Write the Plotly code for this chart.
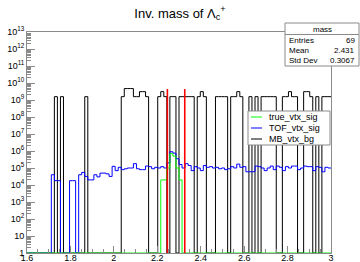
import numpy as np
import plotly.graph_objects as go

# ---------------- data ----------------
mass_lo, mass_hi, n_bins = 1.6, 3.0, 100
x_tick_vals = [1.6, 1.8, 2.0, 2.2, 2.4, 2.6, 2.8, 3.0]
x_tick_text = ["1.6", "1.8", "2", "2.2", "2.4", "2.6", "2.8", "3"]
y_tick_exps = list(range(0, 14))

true_vtx_sig = [0] * 44 + [2.0e4, 2.0e4, 1.0e5, 7.0e5, 5.0e5, 1.0e5, 2.0e4] + [0] * 49

tof_vtx_sig = [
    0, 0, 0, 0, 0, 0, 0, 0, 4.0e4, 1.8e4,
    1.8e4, 0, 0, 0, 1.8e4, 1.8e4, 0, 4.0e4, 5.5e4, 3.2e4,
    2.0e4, 2.0e4, 4.0e4, 3.0e4, 5.0e4, 5.0e4, 4.5e4, 3.2e4, 1.25e5, 7.0e4,
    1.1e5, 8.0e4, 9.0e4, 1.0e5, 1.0e5, 1.8e5, 9.0e4, 8.0e4, 8.0e4, 1.3e5,
    1.2e5, 9.0e4, 1.1e5, 1.0e5, 1.2e5, 1.0e5, 2.0e5, 9.0e5, 7.5e5, 3.5e5,
    1.6e5, 1.0e5, 1.8e5, 1.4e5, 7.0e4, 1.2e5, 1.0e5, 7.0e4, 1.4e5, 1.1e5,
    1.2e5, 1.0e5, 1.1e5, 9.0e4, 1.0e5, 8.0e4, 9.0e4, 1.2e5, 1.0e5, 1.7e5,
    1.1e5, 1.2e5, 6.0e4, 6.0e4, 6.0e4, 1.3e5, 1.2e5, 1.0e5, 7.0e4, 1.0e5,
    1.3e5, 8.0e4, 1.3e5, 1.1e5, 7.0e4, 1.2e5, 1.0e5, 1.3e5, 1.3e5, 8.0e4,
    1.0e5, 1.3e5, 1.2e5, 1.2e5, 7.0e4, 1.2e5, 1.1e5, 6.0e4, 1.1e5, 1.0e5,
]

L, M, H = 1.57e9, 3.1e9, 4.7e9
mb_vtx_bg = [
    0, 0, 0, 0, 0, 0, 0, 0, 0, L,
    0, L, 0, 0, 0, 0, 0, 0, 0, L,
    0, 0, 0, 0, 0, 0, 0, 0, 0, 0,
    0, L, H, H, H, L, L, M, M, L,
    0, 0, 0, L, M, L, 0, L, L, 0,
    L, L, L, L, L, 0, L, M, L, 0,
    0, 0, L, L, L, L, 0, L, L, M,
    L, 0, 0, L, 0, L, 0, L, L, L,
    L, L, 0, 0, L, L, M, L, L, 0,
    0, M, M, L, 0, L, 0, L, L, L,
]

cut_window = [2.2465, 2.3265]
cut_top = 4.4e9

stats_title = "mass"
stats_rows = [("Entries", "69"), ("Mean", "2.431"), ("Std Dev", "0.3067")]
legend_rows = [("true_vtx_sig", "#00ff00"), ("TOF_vtx_sig", "#0000ff"), ("MB_vtx_bg", "#000000")]

# ---------------- helpers ----------------
W, H_PX = 360, 262
ML, MR, MT, MB = 27, 29, 32, 9
PW, PH = W - ML - MR, H_PX - MT - MB
FONT = "Liberation Sans, Arial, sans-serif"
FRAME = "#8a8a8a"


def px2x(px):
    return (px - ML) / PW


def py2y(py):
    return (H_PX - MB - py) / PH


edges = np.linspace(mass_lo, mass_hi, n_bins + 1)


def step(values):
    v = np.asarray(values, dtype=float)
    v = np.where(v > 0, v, 1.0)  # empty bins sit on the frame bottom (log axis)
    return edges, np.append(v, v[-1])


fig = go.Figure()
for vals, col in [(mb_vtx_bg, "#000000"), (tof_vtx_sig, "#0000ff"), (true_vtx_sig, "#00ff00")]:
    xs, ys = step(vals)
    fig.add_trace(go.Scatter(x=xs, y=ys, mode="lines",
                             line=dict(shape="hv", color=col, width=1),
                             showlegend=False, hoverinfo="skip"))

for xc in cut_window:
    fig.add_trace(go.Scatter(x=[xc, xc], y=[1, cut_top], mode="lines",
                             line=dict(color="#ff0000", width=1.6),
                             showlegend=False, hoverinfo="skip"))

y_tick_vals = [10 ** k for k in y_tick_exps]
y_tick_text = ["1" if k == 0 else ("10" if k == 1 else f"10<sup>{k}</sup>") for k in y_tick_exps]

fig.update_layout(
    width=W, height=H_PX,
    margin=dict(l=ML, r=MR, t=MT, b=MB, pad=0, autoexpand=False),
    paper_bgcolor="white", plot_bgcolor="white",
    font=dict(family=FONT, size=9, color="black"),
    showlegend=False,
    title=dict(text="Inv. mass of Λ<sub>c</sub><sup>+</sup>", x=0.5, xref="container",
               y=1 - 13 / H_PX, yref="container", yanchor="middle", xanchor="center",
               font=dict(family=FONT, size=13, color="black")),
    xaxis=dict(range=[mass_lo, mass_hi], tickvals=x_tick_vals, ticktext=x_tick_text,
               ticks="inside", ticklen=7, tickcolor=FRAME, tickwidth=1,
               showline=True, linecolor=FRAME, linewidth=1, mirror=True,
               showgrid=False, zeroline=False, automargin=False,
               ticklabelstandoff=-4,
               minor=dict(ticks="inside", ticklen=4, dtick=0.05, tickcolor=FRAME),
               tickfont=dict(size=9)),
    yaxis=dict(type="log", range=[0, 13], tickvals=y_tick_vals, ticktext=y_tick_text,
               ticks="inside", ticklen=8, tickcolor=FRAME, tickwidth=1,
               showline=True, linecolor=FRAME, linewidth=1, mirror=True,
               showgrid=False, zeroline=False, automargin=False,
               minor=dict(ticks="inside", ticklen=4, dtick="D1", tickcolor=FRAME),
               tickfont=dict(size=9)),
)

shapes = []
ann = []
# stats box
sx0, sx1, sy0, sy1, sy_head = 285, 359, 23, 66, 34.5
shapes.append(dict(type="rect", xref="paper", yref="paper", x0=px2x(sx0), x1=px2x(sx1),
                   y0=py2y(sy1), y1=py2y(sy0), line=dict(color=FRAME, width=1), fillcolor="white"))
shapes.append(dict(type="line", xref="paper", yref="paper", x0=px2x(sx0), x1=px2x(sx1),
                   y0=py2y(sy_head), y1=py2y(sy_head), line=dict(color=FRAME, width=1)))
ann.append(dict(text=stats_title, xref="paper", yref="paper", x=px2x((sx0 + sx1) / 2), y=py2y(29),
                showarrow=False, xanchor="center", yanchor="middle", font=dict(size=8)))
for k, (lab, val) in enumerate(stats_rows):
    yy = py2y(40.5 + 10 * k)
    ann.append(dict(text=lab, xref="paper", yref="paper", x=px2x(287), y=yy, showarrow=False,
                    xanchor="left", yanchor="middle", font=dict(size=8)))
    ann.append(dict(text=val, xref="paper", yref="paper", x=px2x(357), y=yy, showarrow=False,
                    xanchor="right", yanchor="middle", font=dict(size=8)))

# legend box
lx0, lx1, ly0, ly1 = 248, 330, 111, 145
shapes.append(dict(type="rect", xref="paper", yref="paper", x0=px2x(lx0), x1=px2x(lx1),
                   y0=py2y(ly1), y1=py2y(ly0), line=dict(color=FRAME, width=1), fillcolor="white"))
for k, (lab, col) in enumerate(legend_rows):
    yy = py2y(117 + 11 * k)
    shapes.append(dict(type="line", xref="paper", yref="paper", x0=px2x(251), x1=px2x(262),
                       y0=yy, y1=yy, line=dict(color=col, width=1)))
    ann.append(dict(text=lab, xref="paper", yref="paper", x=px2x(267), y=yy, showarrow=False,
                    xanchor="left", yanchor="middle", font=dict(size=9)))

fig.update_layout(shapes=shapes, annotations=ann)
fig.write_html("out.html", config={"displayModeBar": False},
               post_script="document.body.style.margin='0';document.body.style.overflow='hidden';")
